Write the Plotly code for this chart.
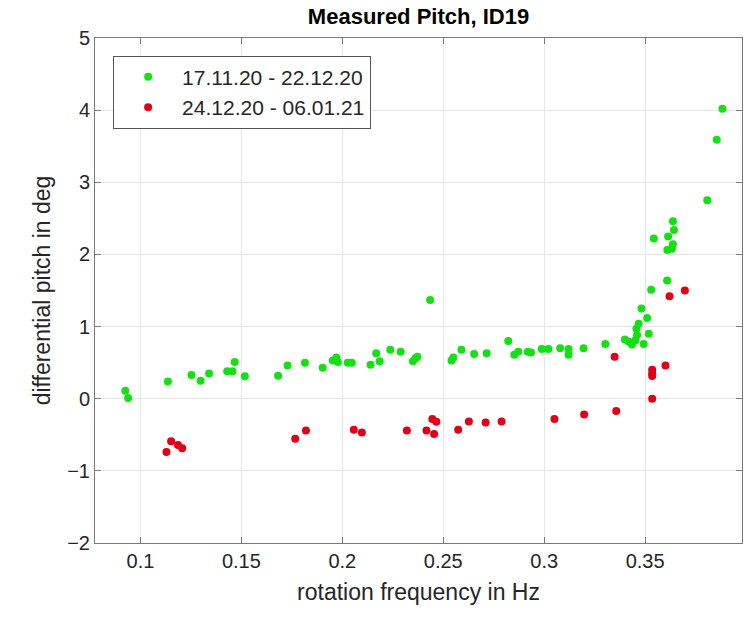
import plotly.graph_objects as go

# Data
green_label = "17.11.20 - 22.12.20"
green_x = [0.0925, 0.0939, 0.1136, 0.1253, 0.1298, 0.1340, 0.1430, 0.1456, 0.1467, 0.1517,
           0.1682, 0.1729, 0.1815, 0.1903, 0.1953, 0.1970, 0.1978, 0.2027, 0.2047, 0.2140,
           0.2168, 0.2185, 0.2238, 0.2289, 0.2350, 0.2362, 0.2372, 0.2435, 0.2541, 0.2550,
           0.2590, 0.2653, 0.2715, 0.2822, 0.2852, 0.2872, 0.2919, 0.2935, 0.2988, 0.3021,
           0.3079, 0.3121, 0.3121, 0.3195, 0.3303, 0.3400, 0.3419, 0.3435, 0.3452, 0.3460,
           0.3457, 0.3468, 0.3482, 0.3493, 0.3510, 0.3518, 0.3530, 0.3543, 0.3610, 0.3633,
           0.3638, 0.3614, 0.3638, 0.3643, 0.3609, 0.3808, 0.3855, 0.3883]
green_y = [0.11, 0.01, 0.24, 0.33, 0.25, 0.35, 0.38, 0.38, 0.51, 0.31,
           0.32, 0.46, 0.50, 0.43, 0.53, 0.57, 0.51, 0.50, 0.50, 0.47,
           0.63, 0.52, 0.68, 0.65, 0.52, 0.56, 0.58, 1.37, 0.53, 0.57,
           0.68, 0.62, 0.63, 0.80, 0.61, 0.65, 0.65, 0.64, 0.69, 0.69,
           0.70, 0.69, 0.61, 0.70, 0.76, 0.82, 0.79, 0.75, 0.81, 0.88,
           0.97, 1.04, 1.25, 0.76, 1.12, 0.90, 1.51, 2.22, 2.06, 2.08,
           2.14, 2.25, 2.46, 2.34, 1.64, 2.75, 3.59, 4.02]

red_label = "24.12.20 - 06.01.21"
red_x = [0.1129, 0.1152, 0.1186, 0.1207, 0.1767, 0.1820, 0.2057, 0.2097, 0.2320, 0.2417,
         0.2446, 0.2466, 0.2455, 0.2574, 0.2627, 0.2710, 0.2789, 0.3051, 0.3198, 0.3349,
         0.3357, 0.3535, 0.3535, 0.3535, 0.3535, 0.3601, 0.3621, 0.3697]
red_y = [-0.74, -0.59, -0.64, -0.685, -0.556, -0.44, -0.43, -0.47, -0.44, -0.44,
         -0.28, -0.32, -0.49, -0.43, -0.315, -0.33, -0.315, -0.28, -0.22, 0.58,
         -0.17, 0.00, 0.315, 0.35, 0.40, 0.46, 1.42, 1.50]

x_ticks = [0.1, 0.15, 0.2, 0.25, 0.3, 0.35]
x_ticktext = ["0.1", "0.15", "0.2", "0.25", "0.3", "0.35"]
y_ticks = [-2, -1, 0, 1, 2, 3, 4, 5]

title_text = "Measured Pitch, ID19"
x_title = "rotation frequency in Hz"
y_title = "differential pitch in deg"

FONT = "Liberation Sans, Arial, Helvetica, sans-serif"
TXT = "#262626"

fig = go.Figure()
fig.add_trace(go.Scatter(x=green_x, y=green_y, mode="markers", name=green_label,
                         marker=dict(color="#14e014", size=8, line=dict(width=0))))
fig.add_trace(go.Scatter(x=red_x, y=red_y, mode="markers", name=red_label,
                         marker=dict(color="#e00018", size=8, line=dict(width=0))))

axis_common = dict(
    showline=True, linecolor="#7a7a7a", linewidth=1, mirror="allticks",
    ticks="inside", ticklen=6, tickcolor="#7a7a7a",
    showgrid=True, gridcolor="#e6e6e6", gridwidth=1, zeroline=False,
    tickfont=dict(family=FONT, size=20, color=TXT),
)

fig.update_layout(
    width=752, height=617,
    margin=dict(l=95, r=10, t=38, b=74),
    paper_bgcolor="white", plot_bgcolor="white",
    font=dict(family=FONT, color=TXT),
    title=dict(text="<b>" + title_text + "</b>", x=0.5, xref="paper", xanchor="center",
               y=1 - 16 / 617, yref="container", yanchor="middle",
               font=dict(family=FONT, size=22, color="#000000")),
    xaxis=dict(range=[0.0775, 0.398], tickvals=x_ticks, ticktext=x_ticktext,
               title=dict(text=x_title, font=dict(family=FONT, size=23, color=TXT), standoff=12),
               **axis_common),
    yaxis=dict(range=[-2, 5], tickvals=y_ticks,
               title=dict(text=y_title, font=dict(family=FONT, size=23, color=TXT), standoff=10),
               **axis_common),
    legend=dict(x=0.028, y=0.965, xanchor="left", yanchor="top",
                bgcolor="white", bordercolor="#555555", borderwidth=1,
                font=dict(family=FONT, size=21, color=TXT), itemwidth=58,
                tracegroupgap=0),
    showlegend=True,
)

fig.write_html("out.html")
